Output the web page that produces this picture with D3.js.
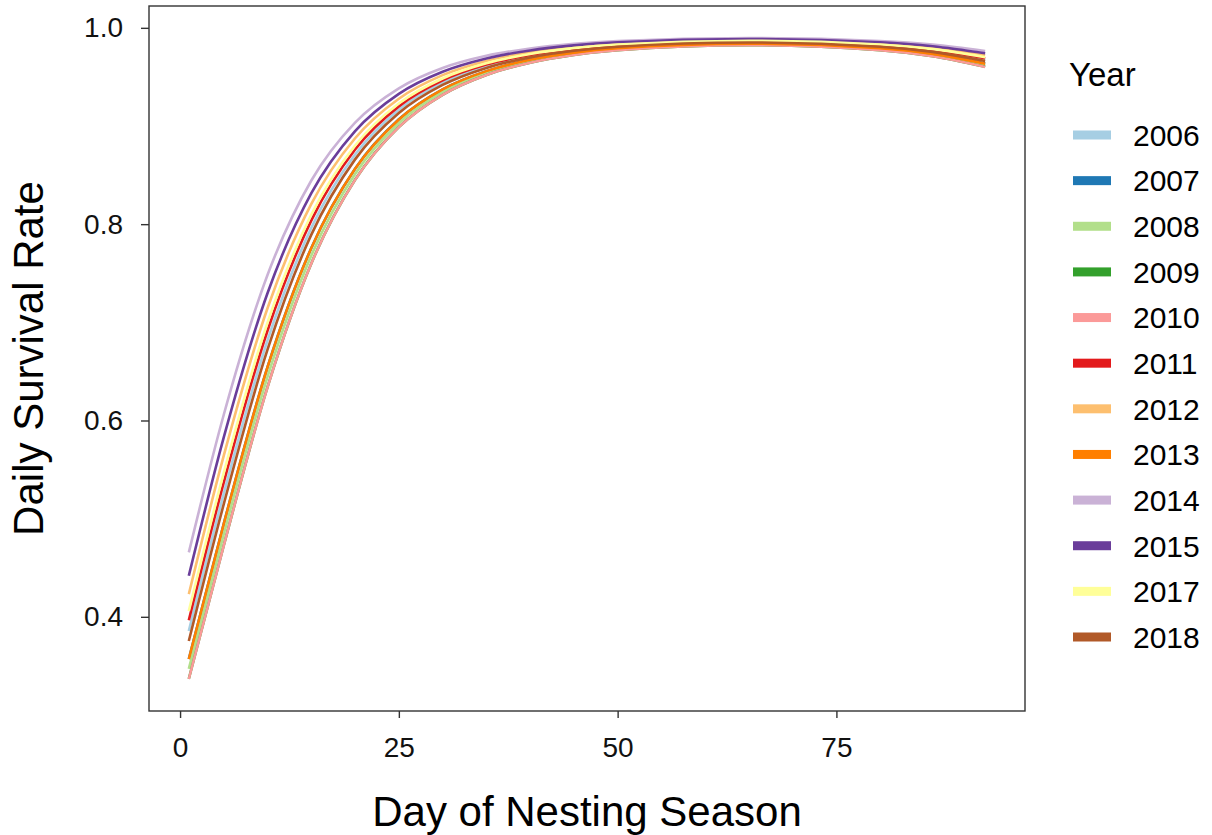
<!DOCTYPE html>
<html><head><meta charset="utf-8">
<script src="https://cdn.jsdelivr.net/npm/d3@7"></script>
<style>
body{margin:0;background:#fff}
text{font-family:"Liberation Sans",Arial,Helvetica,sans-serif}
</style>
</head><body>
<svg id="chart" width="1212" height="835"></svg>
<script>
// ---- data ----
const days = [1,5,10,15,20,25,30,35,40,45,50,65,80,86,92];
const years = ["2006","2007","2008","2009","2010","2011","2012","2013","2014","2015","2017","2018"];
const colors = ["#A6CEE3","#1F78B4","#B2DF8A","#33A02C","#FB9A99","#E31A1C","#FDBF6F","#FF7F00","#CAB2D6","#6A3D9A","#FFFF99","#B15928"];
const dsr2006 = [0.3856,0.5257,0.6818,0.7964,0.8709,0.9166,0.9441,0.9608,0.9711,0.9775,0.9815,0.9857,0.9815,0.9765,0.9676];
const dsr2007 = [0.3570,0.4951,0.6546,0.7758,0.8565,0.9068,0.9374,0.9559,0.9675,0.9747,0.9792,0.9838,0.9792,0.9735,0.9636];
const dsr2008 = [0.3470,0.4843,0.6448,0.7682,0.8511,0.9030,0.9347,0.9541,0.9661,0.9736,0.9783,0.9831,0.9783,0.9723,0.9619];
const dsr2009 = [0.3368,0.4729,0.6342,0.7600,0.8452,0.8990,0.9318,0.9520,0.9645,0.9724,0.9773,0.9824,0.9773,0.9711,0.9603];
const dsr2010 = [0.3367,0.4728,0.6341,0.7599,0.8451,0.8989,0.9318,0.9520,0.9645,0.9724,0.9773,0.9824,0.9773,0.9711,0.9602];
const dsr2011 = [0.3965,0.5372,0.6917,0.8038,0.8760,0.9200,0.9465,0.9626,0.9724,0.9785,0.9824,0.9863,0.9824,0.9775,0.9690];
const dsr2012 = [0.4231,0.5644,0.7146,0.8206,0.8875,0.9278,0.9518,0.9663,0.9752,0.9807,0.9842,0.9877,0.9842,0.9798,0.9721];
const dsr2013 = [0.3569,0.4950,0.6545,0.7757,0.8564,0.9067,0.9373,0.9559,0.9675,0.9747,0.9792,0.9838,0.9792,0.9735,0.9635];
const dsr2014 = [0.4656,0.6061,0.7484,0.8445,0.9035,0.9384,0.9591,0.9715,0.9790,0.9837,0.9866,0.9896,0.9866,0.9830,0.9764];
const dsr2015 = [0.4418,0.5830,0.7299,0.8315,0.8948,0.9327,0.9552,0.9687,0.9770,0.9821,0.9853,0.9886,0.9853,0.9813,0.9741];
const dsr2017 = [0.4059,0.5469,0.6999,0.8098,0.8802,0.9229,0.9484,0.9639,0.9734,0.9793,0.9830,0.9868,0.9830,0.9783,0.9701];
const dsr2018 = [0.3754,0.5150,0.6724,0.7893,0.8660,0.9132,0.9418,0.9592,0.9699,0.9766,0.9808,0.9851,0.9808,0.9755,0.9662];
const xTicks = [0,25,50,75];
const yTicks = [0.4,0.6,0.8,1.0];
const xTitle = "Day of Nesting Season";
const yTitle = "Daily Survival Rate";
const legendTitle = "Year";

const seriesValues = [dsr2006,dsr2007,dsr2008,dsr2009,dsr2010,dsr2011,dsr2012,dsr2013,dsr2014,dsr2015,dsr2017,dsr2018];
const series = years.map((y,i)=>({year:y,color:colors[i],pts:days.map((d,j)=>({x:d,y:seriesValues[i][j]}))}));

// ---- layout ----
const panel = {left:149, right:1025, top:6, bottom:711};
const svg = d3.select("#chart");

const xExt = d3.extent(days);
const xPad = (xExt[1]-xExt[0])*0.05;
const x = d3.scaleLinear().domain([xExt[0]-xPad, xExt[1]+xPad]).range([panel.left, panel.right]);
const allY = seriesValues.flat();
const yExt = d3.extent(allY);
const yPad = (yExt[1]-yExt[0])*0.05;
const y = d3.scaleLinear().domain([yExt[0]-yPad, yExt[1]+yPad]).range([panel.bottom, panel.top]);

// lines
const line = d3.line().x(d=>x(d.x)).y(d=>y(d.y)).curve(d3.curveMonotoneX);
const clip = svg.append("clipPath").attr("id","clip").append("rect")
  .attr("x",panel.left).attr("y",panel.top).attr("width",panel.right-panel.left).attr("height",panel.bottom-panel.top);
svg.append("g").attr("clip-path","url(#clip)").selectAll("path").data(series).join("path")
  .attr("d",d=>line(d.pts)).attr("fill","none").attr("stroke",d=>d.color)
  .attr("stroke-width",2.6).attr("stroke-linecap","butt");

// panel border
svg.append("rect").attr("x",panel.left).attr("y",panel.top)
  .attr("width",panel.right-panel.left).attr("height",panel.bottom-panel.top)
  .attr("fill","none").attr("stroke","#333").attr("stroke-width",1.4);

// axes
const xAxis = svg.append("g").attr("transform",`translate(0,${panel.bottom})`)
  .call(d3.axisBottom(x).tickValues(xTicks).tickSize(7).tickPadding(18).tickFormat(d3.format("d")));
const yAxis = svg.append("g").attr("transform",`translate(${panel.left},0)`)
  .call(d3.axisLeft(y).tickValues(yTicks).tickSize(8).tickPadding(18).tickFormat(d3.format(".1f")));
[xAxis,yAxis].forEach(a=>{
  a.select(".domain").remove();
  a.selectAll(".tick line").attr("stroke","#333").attr("stroke-width",1.4);
  a.selectAll(".tick text").attr("fill","#111").style("font-size","28px")
   .style("font-family",'"Liberation Sans",Arial,sans-serif');
});
xAxis.selectAll(".tick text").attr("dy","0.75em");

// titles
svg.append("text").attr("x",(panel.left+panel.right)/2).attr("y",826)
  .attr("text-anchor","middle").style("font-size","42px").attr("fill","#000").text(xTitle);
svg.append("text").attr("transform",`translate(43,${(panel.top+panel.bottom)/2}) rotate(-90)`)
  .attr("text-anchor","middle").style("font-size","42px").attr("fill","#000").text(yTitle);

// legend
const lg = svg.append("g");
lg.append("text").attr("x",1069).attr("y",86).style("font-size","33px").attr("fill","#000").text(legendTitle);
const rowY = d3.scalePoint().domain(years).range([135,637]);
const rows = lg.selectAll("g.row").data(series).join("g").attr("class","row")
  .attr("transform",d=>`translate(0,${rowY(d.year)})`);
rows.append("rect").attr("x",1073).attr("y",-4.5).attr("width",38).attr("height",9).attr("fill",d=>d.color);
rows.append("text").attr("x",1133).attr("y",0).attr("dy","0.36em").style("font-size","30px").attr("fill","#000").text(d=>d.year);
</script>
</body></html>
